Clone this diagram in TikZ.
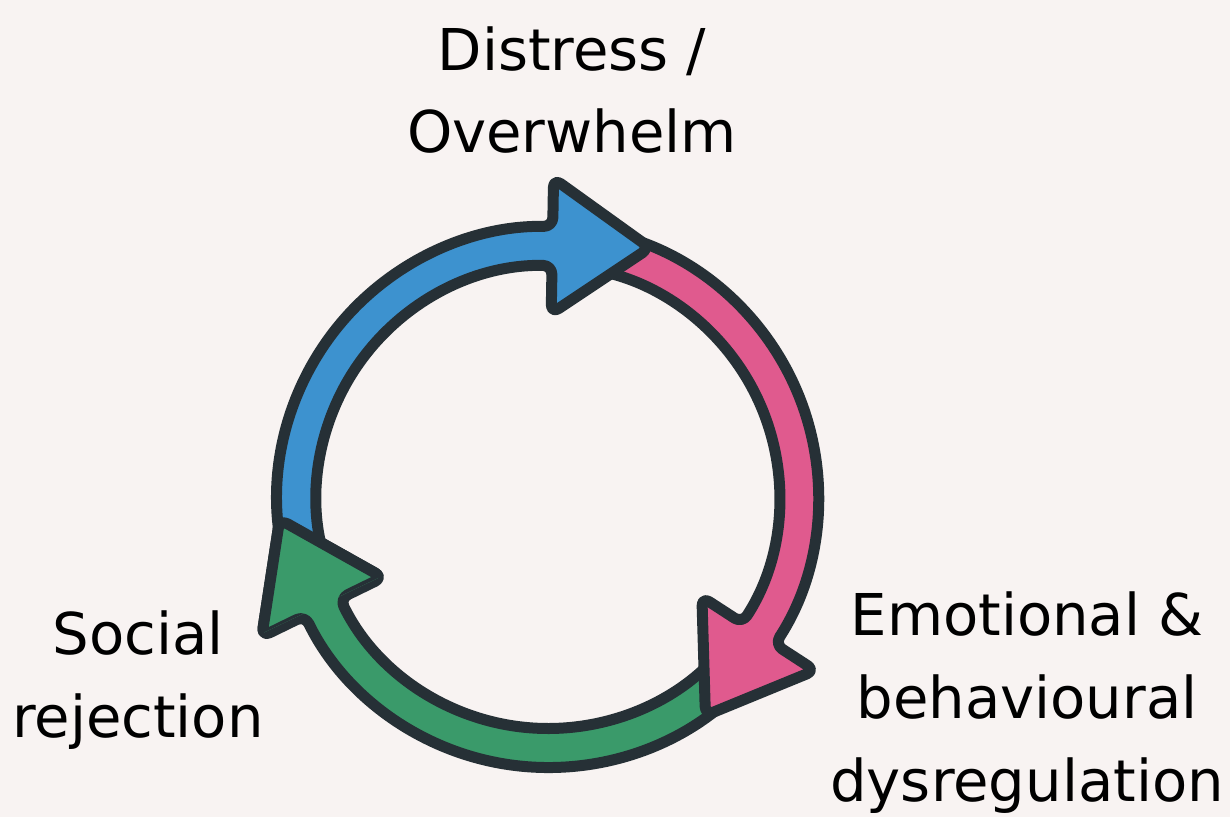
\documentclass[tikz,border=0pt]{standalone}
\usepackage{fontspec}
\setmainfont{DejaVu Sans}
\usetikzlibrary{calc}

\definecolor{bgcol}{RGB}{248,243,242}
\definecolor{edgecol}{RGB}{38,48,54}
\definecolor{distblue}{RGB}{61,146,207}
\definecolor{dysrpink}{RGB}{224,90,142}
\definecolor{rejgreen}{RGB}{58,154,106}

% ring radius, half band width, half head width, head length
\def\R{5.02}
\def\w{0.39}
\def\h{1.35}
\def\L{1.95}

% one arrow of the loop: fill colour, start angle, end angle
\newcommand{\looparrow}[3]{%
  \draw[loopline, fill=#1]
    ({#2}:{\R+\w}) arc[start angle=#2, end angle=#3, radius=\R+\w]
    -- ({#3}:{\R+\h}) -- ($({#3}:\R)+({#3-90}:\L)$) -- ({#3}:{\R-\h})
    -- ({#3}:{\R-\w}) arc[start angle=#3, end angle=#2, radius=\R-\w] -- cycle;}

\begin{document}
\begin{tikzpicture}[
    loopline/.style={draw=edgecol, line width=0.22cm, line join=round, rounded corners=0.18cm},
    txt/.style={font=\fontsize{32.8}{47.2}\selectfont, align=center, inner sep=0pt}]

		\fill[bgcol] (-10.96,-6.4) rectangle (13.64,9.94);
		\coordinate (o) at (0,0);

		% Arrows of the loop
		\looparrow{rejgreen}{-40}{-154}
		\looparrow{dysrpink}{80}{-33}
		\looparrow{distblue}{196}{89}
		% green head goes back on top of the blue tail
		\begin{scope}
			\clip (o) -- (205.5:8) arc[start angle=205.5, end angle=160, radius=8] -- cycle;
			\looparrow{rejgreen}{-40}{-154}
		\end{scope}

		% Labels
		\node[txt] (distress)  at (0.48,8.14)  {Distress /\\Overwhelm};
		\node[txt] (dysreg)    at (9.58,-4.12) {Emotional \&\\behavioural\\dysregulation};
		\node[txt] (rejection) at (-8.2,-3.66) {Social\\rejection};

\end{tikzpicture}
\end{document}
